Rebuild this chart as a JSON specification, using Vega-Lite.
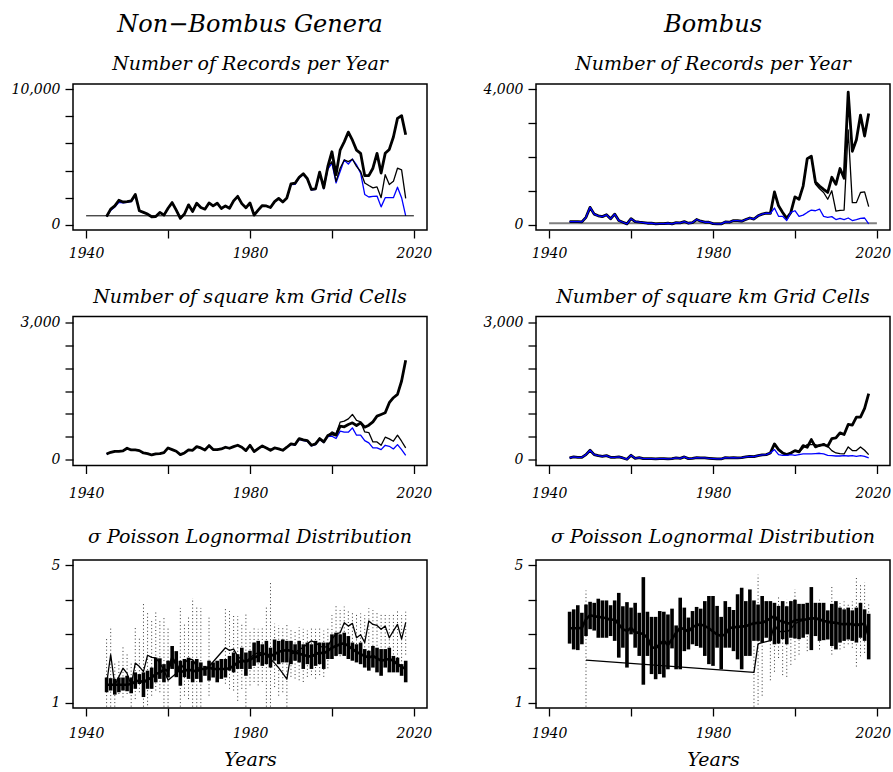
{
"$schema":"https://vega.github.io/schema/vega-lite/v6.json",
"background":"white",
"padding":{"left":10,"top":12,"right":0,"bottom":0},
"columns":2,
"align":"each",
"spacing":{"row":25.5,"column":49},
"datasets":{
"hL":[{"yr":1940,"h":650},{"yr":2020,"h":650}],
"hR":[{"yr":1940,"h":40},{"yr":2020,"h":40}],
"recL":[
{"yr":1945,"k":600,"t":600,"b":600},{"yr":1946,"k":1140,"t":1140,"b":1050},{"yr":1947,"k":1380,"t":1380,"b":1300},{"yr":1948,"k":1800,"t":1800,"b":1650},{"yr":1949,"k":1670,"t":1670,"b":1600},{"yr":1950,"k":1700,"t":1700,"b":1640},{"yr":1951,"k":1750,"t":1750,"b":1700},{"yr":1952,"k":2230,"t":2230,"b":2150},{"yr":1953,"k":1020,"t":1020,"b":1000},{"yr":1954,"k":900,"t":900,"b":900},
{"yr":1955,"k":780,"t":780,"b":780},{"yr":1956,"k":580,"t":580,"b":580},{"yr":1957,"k":600,"t":600,"b":600},{"yr":1958,"k":900,"t":900,"b":900},{"yr":1959,"k":700,"t":700,"b":700},{"yr":1960,"k":1210,"t":1210,"b":1210},{"yr":1961,"k":1630,"t":1630,"b":1630},{"yr":1962,"k":1070,"t":1070,"b":1070},{"yr":1963,"k":460,"t":460,"b":460},{"yr":1964,"k":780,"t":780,"b":780},
{"yr":1965,"k":1460,"t":1460,"b":1460},{"yr":1966,"k":970,"t":970,"b":970},{"yr":1967,"k":1580,"t":1580,"b":1580},{"yr":1968,"k":1260,"t":1260,"b":1260},{"yr":1969,"k":1140,"t":1140,"b":1140},{"yr":1970,"k":1600,"t":1600,"b":1600},{"yr":1971,"k":1380,"t":1380,"b":1380},{"yr":1972,"k":1580,"t":1580,"b":1580},{"yr":1973,"k":1190,"t":1190,"b":1190},{"yr":1974,"k":1380,"t":1380,"b":1380},
{"yr":1975,"k":1210,"t":1210,"b":1210},{"yr":1976,"k":1750,"t":1750,"b":1750},{"yr":1977,"k":2090,"t":2090,"b":2090},{"yr":1978,"k":1550,"t":1550,"b":1550},{"yr":1979,"k":1240,"t":1240,"b":1240},{"yr":1980,"k":1600,"t":1600,"b":1600},{"yr":1981,"k":700,"t":700,"b":700},{"yr":1982,"k":1070,"t":1070,"b":1070},{"yr":1983,"k":1410,"t":1410,"b":1410},{"yr":1984,"k":1380,"t":1380,"b":1380},
{"yr":1985,"k":1260,"t":1260,"b":1260},{"yr":1986,"k":1700,"t":1700,"b":1700},{"yr":1987,"k":1940,"t":1940,"b":1940},{"yr":1988,"k":1670,"t":1670,"b":1670},{"yr":1989,"k":1970,"t":1970,"b":1970},{"yr":1990,"k":3010,"t":3010,"b":2950},{"yr":1991,"k":3060,"t":3060,"b":2980},{"yr":1992,"k":3500,"t":3500,"b":3450},{"yr":1993,"k":3760,"t":3760,"b":3700},{"yr":1994,"k":3400,"t":3400,"b":3350},
{"yr":1995,"k":2600,"t":2600,"b":2550},{"yr":1996,"k":2650,"t":2650,"b":2600},{"yr":1997,"k":3880,"t":3880,"b":3800},{"yr":1998,"k":2720,"t":2720,"b":2650},{"yr":1999,"k":4300,"t":4300,"b":4100},{"yr":2000,"k":5390,"t":4660,"b":4540},{"yr":2001,"k":3690,"t":3200,"b":3080},{"yr":2002,"k":5510,"t":4170,"b":3930},{"yr":2003,"k":6120,"t":4780,"b":4780},{"yr":2004,"k":6840,"t":4660,"b":4470},
{"yr":2005,"k":6240,"t":4830,"b":4850},{"yr":2006,"k":5510,"t":4300,"b":4420},{"yr":2007,"k":5270,"t":3930,"b":3810},{"yr":2008,"k":3620,"t":3080,"b":2230},{"yr":2009,"k":3620,"t":2890,"b":2040},{"yr":2010,"k":4170,"t":2720,"b":2090},{"yr":2011,"k":5270,"t":2790,"b":2110},{"yr":2012,"k":3810,"t":1990,"b":1310},{"yr":2013,"k":5270,"t":3690,"b":1990},{"yr":2014,"k":5560,"t":2960,"b":1990},
{"yr":2015,"k":6480,"t":3200,"b":1990},{"yr":2016,"k":7860,"t":4170,"b":2770},{"yr":2017,"k":8060,"t":4050,"b":1990},{"yr":2018,"k":6650,"t":1940,"b":650}],
"recR":[
{"yr":1945,"k":90,"t":90,"b":90},{"yr":1946,"k":90,"t":90,"b":90},{"yr":1947,"k":90,"t":90,"b":90},{"yr":1948,"k":80,"t":80,"b":80},{"yr":1949,"k":215,"t":215,"b":215},{"yr":1950,"k":510,"t":510,"b":510},{"yr":1951,"k":310,"t":310,"b":310},{"yr":1952,"k":260,"t":260,"b":260},{"yr":1953,"k":235,"t":235,"b":235},{"yr":1954,"k":290,"t":290,"b":290},
{"yr":1955,"k":170,"t":170,"b":170},{"yr":1956,"k":310,"t":310,"b":310},{"yr":1957,"k":120,"t":120,"b":120},{"yr":1958,"k":70,"t":70,"b":70},{"yr":1959,"k":20,"t":20,"b":20},{"yr":1960,"k":175,"t":175,"b":175},{"yr":1961,"k":90,"t":90,"b":90},{"yr":1962,"k":70,"t":70,"b":70},{"yr":1963,"k":60,"t":60,"b":60},{"yr":1964,"k":40,"t":40,"b":40},
{"yr":1965,"k":40,"t":40,"b":40},{"yr":1966,"k":20,"t":20,"b":20},{"yr":1967,"k":30,"t":30,"b":30},{"yr":1968,"k":30,"t":30,"b":30},{"yr":1969,"k":40,"t":40,"b":40},{"yr":1970,"k":20,"t":20,"b":20},{"yr":1971,"k":60,"t":60,"b":60},{"yr":1972,"k":50,"t":50,"b":50},{"yr":1973,"k":90,"t":90,"b":90},{"yr":1974,"k":40,"t":40,"b":40},
{"yr":1975,"k":60,"t":60,"b":60},{"yr":1976,"k":150,"t":150,"b":150},{"yr":1977,"k":100,"t":100,"b":100},{"yr":1978,"k":70,"t":70,"b":70},{"yr":1979,"k":70,"t":70,"b":70},{"yr":1980,"k":30,"t":30,"b":30},{"yr":1981,"k":20,"t":20,"b":20},{"yr":1982,"k":20,"t":20,"b":20},{"yr":1983,"k":80,"t":80,"b":80},{"yr":1984,"k":70,"t":70,"b":70},
{"yr":1985,"k":120,"t":120,"b":120},{"yr":1986,"k":120,"t":120,"b":120},{"yr":1987,"k":100,"t":100,"b":100},{"yr":1988,"k":150,"t":150,"b":150},{"yr":1989,"k":195,"t":195,"b":195},{"yr":1990,"k":165,"t":165,"b":165},{"yr":1991,"k":260,"t":260,"b":260},{"yr":1992,"k":310,"t":310,"b":310},{"yr":1993,"k":340,"t":340,"b":340},{"yr":1994,"k":330,"t":330,"b":330},
{"yr":1995,"k":965,"t":965,"b":490},{"yr":1996,"k":555,"t":555,"b":245},{"yr":1997,"k":360,"t":360,"b":245},{"yr":1998,"k":185,"t":185,"b":120},{"yr":1999,"k":360,"t":360,"b":360},{"yr":2000,"k":820,"t":820,"b":410},{"yr":2001,"k":750,"t":750,"b":245},{"yr":2002,"k":1140,"t":1140,"b":280},{"yr":2003,"k":1950,"t":1950,"b":360},{"yr":2004,"k":2020,"t":2020,"b":430},
{"yr":2005,"k":1260,"t":1200,"b":410},{"yr":2006,"k":1140,"t":1060,"b":460},{"yr":2007,"k":1040,"t":950,"b":245},{"yr":2008,"k":950,"t":750,"b":215},{"yr":2009,"k":1400,"t":1000,"b":235},{"yr":2010,"k":1190,"t":400,"b":150},{"yr":2011,"k":1660,"t":420,"b":185},{"yr":2012,"k":1370,"t":430,"b":150},{"yr":2013,"k":3920,"t":2800,"b":195},{"yr":2014,"k":2170,"t":650,"b":120},
{"yr":2015,"k":2510,"t":650,"b":150},{"yr":2016,"k":3240,"t":950,"b":185},{"yr":2017,"k":2620,"t":970,"b":195},{"yr":2018,"k":3290,"t":530,"b":20}],
"grdL":[
{"yr":1945,"k":131,"t":131,"b":131},{"yr":1946,"k":167,"t":167,"b":167},{"yr":1947,"k":189,"t":189,"b":189},{"yr":1948,"k":189,"t":189,"b":189},{"yr":1949,"k":197,"t":197,"b":197},{"yr":1950,"k":255,"t":255,"b":255},{"yr":1951,"k":218,"t":218,"b":218},{"yr":1952,"k":218,"t":218,"b":218},{"yr":1953,"k":204,"t":204,"b":204},{"yr":1954,"k":153,"t":153,"b":153},
{"yr":1955,"k":138,"t":138,"b":138},{"yr":1956,"k":109,"t":109,"b":109},{"yr":1957,"k":131,"t":131,"b":131},{"yr":1958,"k":138,"t":138,"b":138},{"yr":1959,"k":160,"t":160,"b":160},{"yr":1960,"k":262,"t":262,"b":262},{"yr":1961,"k":226,"t":226,"b":226},{"yr":1962,"k":189,"t":189,"b":189},{"yr":1963,"k":116,"t":116,"b":116},{"yr":1964,"k":153,"t":153,"b":153},
{"yr":1965,"k":218,"t":218,"b":218},{"yr":1966,"k":211,"t":211,"b":211},{"yr":1967,"k":291,"t":291,"b":291},{"yr":1968,"k":262,"t":262,"b":262},{"yr":1969,"k":218,"t":218,"b":218},{"yr":1970,"k":313,"t":313,"b":313},{"yr":1971,"k":226,"t":226,"b":226},{"yr":1972,"k":226,"t":226,"b":226},{"yr":1973,"k":240,"t":240,"b":240},{"yr":1974,"k":277,"t":277,"b":277},
{"yr":1975,"k":255,"t":255,"b":255},{"yr":1976,"k":291,"t":291,"b":291},{"yr":1977,"k":320,"t":320,"b":320},{"yr":1978,"k":277,"t":277,"b":277},{"yr":1979,"k":204,"t":204,"b":204},{"yr":1980,"k":320,"t":320,"b":320},{"yr":1981,"k":182,"t":182,"b":182},{"yr":1982,"k":248,"t":248,"b":248},{"yr":1983,"k":306,"t":306,"b":306},{"yr":1984,"k":262,"t":262,"b":262},
{"yr":1985,"k":211,"t":211,"b":211},{"yr":1986,"k":262,"t":262,"b":262},{"yr":1987,"k":240,"t":240,"b":240},{"yr":1988,"k":211,"t":211,"b":211},{"yr":1989,"k":277,"t":277,"b":277},{"yr":1990,"k":349,"t":349,"b":340},{"yr":1991,"k":335,"t":335,"b":325},{"yr":1992,"k":466,"t":466,"b":450},{"yr":1993,"k":437,"t":437,"b":420},{"yr":1994,"k":422,"t":422,"b":405},
{"yr":1995,"k":320,"t":320,"b":305},{"yr":1996,"k":349,"t":349,"b":335},{"yr":1997,"k":466,"t":466,"b":445},{"yr":1998,"k":393,"t":393,"b":380},{"yr":1999,"k":531,"t":531,"b":510},{"yr":2000,"k":568,"t":611,"b":517},{"yr":2001,"k":539,"t":568,"b":466},{"yr":2002,"k":735,"t":823,"b":626},{"yr":2003,"k":721,"t":844,"b":604},{"yr":2004,"k":772,"t":895,"b":604},
{"yr":2005,"k":808,"t":990,"b":699},{"yr":2006,"k":750,"t":859,"b":539},{"yr":2007,"k":808,"t":830,"b":539},{"yr":2008,"k":713,"t":611,"b":422},{"yr":2009,"k":757,"t":597,"b":371},{"yr":2010,"k":830,"t":393,"b":262},{"yr":2011,"k":954,"t":393,"b":262},{"yr":2012,"k":990,"t":320,"b":226},{"yr":2013,"k":1026,"t":495,"b":320},{"yr":2014,"k":1245,"t":459,"b":298},
{"yr":2015,"k":1354,"t":408,"b":240},{"yr":2016,"k":1427,"t":539,"b":335},{"yr":2017,"k":1718,"t":408,"b":226},{"yr":2018,"k":2169,"t":262,"b":102}],
"grdR":[
{"yr":1945,"k":44,"t":44,"b":44},{"yr":1946,"k":66,"t":66,"b":66},{"yr":1947,"k":58,"t":58,"b":58},{"yr":1948,"k":58,"t":58,"b":58},{"yr":1949,"k":116,"t":116,"b":116},{"yr":1950,"k":211,"t":211,"b":211},{"yr":1951,"k":116,"t":116,"b":116},{"yr":1952,"k":95,"t":95,"b":95},{"yr":1953,"k":80,"t":80,"b":80},{"yr":1954,"k":95,"t":95,"b":95},
{"yr":1955,"k":58,"t":58,"b":58},{"yr":1956,"k":58,"t":58,"b":58},{"yr":1957,"k":66,"t":66,"b":66},{"yr":1958,"k":44,"t":44,"b":44},{"yr":1959,"k":15,"t":15,"b":15},{"yr":1960,"k":102,"t":102,"b":102},{"yr":1961,"k":36,"t":36,"b":36},{"yr":1962,"k":51,"t":51,"b":51},{"yr":1963,"k":29,"t":29,"b":29},{"yr":1964,"k":29,"t":29,"b":29},
{"yr":1965,"k":29,"t":29,"b":29},{"yr":1966,"k":22,"t":22,"b":22},{"yr":1967,"k":29,"t":29,"b":29},{"yr":1968,"k":29,"t":29,"b":29},{"yr":1969,"k":22,"t":22,"b":22},{"yr":1970,"k":29,"t":29,"b":29},{"yr":1971,"k":44,"t":44,"b":44},{"yr":1972,"k":36,"t":36,"b":36},{"yr":1973,"k":66,"t":66,"b":66},{"yr":1974,"k":29,"t":29,"b":29},
{"yr":1975,"k":36,"t":36,"b":36},{"yr":1976,"k":51,"t":51,"b":51},{"yr":1977,"k":44,"t":44,"b":44},{"yr":1978,"k":44,"t":44,"b":44},{"yr":1979,"k":36,"t":36,"b":36},{"yr":1980,"k":29,"t":29,"b":29},{"yr":1981,"k":22,"t":22,"b":22},{"yr":1982,"k":22,"t":22,"b":22},{"yr":1983,"k":51,"t":51,"b":51},{"yr":1984,"k":44,"t":44,"b":44},
{"yr":1985,"k":51,"t":51,"b":51},{"yr":1986,"k":44,"t":44,"b":44},{"yr":1987,"k":51,"t":51,"b":51},{"yr":1988,"k":66,"t":66,"b":66},{"yr":1989,"k":80,"t":80,"b":80},{"yr":1990,"k":73,"t":73,"b":73},{"yr":1991,"k":95,"t":95,"b":95},{"yr":1992,"k":109,"t":109,"b":109},{"yr":1993,"k":116,"t":116,"b":116},{"yr":1994,"k":153,"t":153,"b":153},
{"yr":1995,"k":349,"t":349,"b":226},{"yr":1996,"k":226,"t":226,"b":116},{"yr":1997,"k":153,"t":153,"b":102},{"yr":1998,"k":116,"t":116,"b":102},{"yr":1999,"k":153,"t":153,"b":116},{"yr":2000,"k":204,"t":204,"b":102},{"yr":2001,"k":175,"t":175,"b":116},{"yr":2002,"k":313,"t":262,"b":131},{"yr":2003,"k":277,"t":335,"b":131},{"yr":2004,"k":444,"t":335,"b":131},
{"yr":2005,"k":284,"t":335,"b":138},{"yr":2006,"k":320,"t":298,"b":146},{"yr":2007,"k":335,"t":357,"b":131},{"yr":2008,"k":298,"t":298,"b":102},{"yr":2009,"k":466,"t":204,"b":95},{"yr":2010,"k":480,"t":153,"b":87},{"yr":2011,"k":590,"t":138,"b":87},{"yr":2012,"k":553,"t":131,"b":95},{"yr":2013,"k":772,"t":284,"b":87},{"yr":2014,"k":757,"t":204,"b":95},
{"yr":2015,"k":932,"t":204,"b":80},{"yr":2016,"k":932,"t":284,"b":95},{"yr":2017,"k":1121,"t":211,"b":80},{"yr":2018,"k":1441,"t":116,"b":44}],
"sigL":[
{"yr":1945,"m":1.52,"lo":1.30,"hi":1.73,"t":1.55,"dl":0.88,"dh":2.85},{"yr":1946,"m":1.52,"lo":1.35,"hi":1.71,"t":2.40,"dl":0.88,"dh":3.23},{"yr":1947,"m":1.52,"lo":1.23,"hi":1.69,"t":1.50,"dl":0.88,"dh":2.17},{"yr":1948,"m":1.52,"lo":1.30,"hi":1.73,"t":1.75,"dl":1.25,"dh":2.22},{"yr":1949,"m":1.52,"lo":1.35,"hi":1.73,"t":2.00,"dl":1.15,"dh":2.62},
{"yr":1950,"m":1.52,"lo":1.33,"hi":1.78,"t":1.85,"dl":1.25,"dh":2.41},{"yr":1951,"m":1.54,"lo":1.27,"hi":1.73,"t":1.50,"dl":0.88,"dh":2.17},{"yr":1952,"m":1.61,"lo":1.40,"hi":1.88,"t":2.15,"dl":1.10,"dh":3.20},{"yr":1953,"m":1.64,"lo":1.54,"hi":1.83,"t":2.05,"dl":1.30,"dh":2.90},{"yr":1954,"m":1.59,"lo":1.16,"hi":1.88,"t":1.90,"dl":0.88,"dh":3.91},
{"yr":1955,"m":1.67,"lo":1.40,"hi":1.93,"t":2.38,"dl":0.92,"dh":3.67},{"yr":1956,"m":1.73,"lo":1.40,"hi":2.02,"t":2.32,"dl":1.20,"dh":3.40},{"yr":1957,"m":1.83,"lo":1.59,"hi":2.31,"t":2.30,"dl":1.35,"dh":3.67},{"yr":1958,"m":1.88,"lo":1.69,"hi":2.29,"t":2.15,"dl":1.30,"dh":3.40},{"yr":1959,"m":1.96,"lo":1.59,"hi":2.12,"t":1.95,"dl":0.88,"dh":3.52},
{"yr":1960,"m":1.93,"lo":1.73,"hi":2.22,"t":1.65,"dl":0.88,"dh":3.20},{"yr":1961,"m":2.30,"lo":1.98,"hi":2.65},{"yr":1962,"m":2.12,"lo":1.74,"hi":2.50},{"yr":1963,"m":1.88,"lo":1.49,"hi":2.22,"t":1.95,"dl":0.88,"dh":3.76},{"yr":1964,"m":1.93,"lo":1.74,"hi":2.27,"t":2.15,"dl":1.20,"dh":3.30},
{"yr":1965,"m":1.96,"lo":1.69,"hi":2.31,"t":2.27,"dl":1.10,"dh":3.50},{"yr":1966,"m":1.93,"lo":1.59,"hi":2.22,"t":2.25,"dl":0.88,"dh":4.05},{"yr":1967,"m":1.91,"lo":1.69,"hi":2.27,"t":2.05,"dl":0.88,"dh":3.81},{"yr":1968,"m":1.98,"lo":1.59,"hi":2.17,"t":1.95,"dl":0.88,"dh":3.76},{"yr":1969,"m":1.98,"lo":1.78,"hi":2.07},
{"yr":1970,"m":2.02,"lo":1.64,"hi":2.22,"t":2.05,"dl":1.20,"dh":3.52},{"yr":1971,"m":1.98,"lo":1.73,"hi":2.17},{"yr":1972,"m":1.98,"lo":1.59,"hi":2.22},{"yr":1973,"m":1.98,"lo":1.69,"hi":2.27},{"yr":1974,"m":1.98,"lo":1.73,"hi":2.27,"t":2.60,"dl":1.55,"dh":3.78},
{"yr":1975,"m":2.00,"lo":1.93,"hi":2.36,"t":2.52,"dl":1.40,"dh":3.67},{"yr":1976,"m":2.07,"lo":1.88,"hi":2.46,"t":2.56,"dl":1.35,"dh":3.57},{"yr":1977,"m":2.17,"lo":1.98,"hi":2.41,"t":2.35,"dl":1.05,"dh":3.52},{"yr":1978,"m":2.22,"lo":1.98,"hi":2.60,"t":2.25,"dl":1.40,"dh":3.30},{"yr":1979,"m":2.19,"lo":1.78,"hi":2.46,"t":2.20,"dl":0.88,"dh":3.62},
{"yr":1980,"m":2.25,"lo":1.98,"hi":2.51,"t":2.30,"dl":1.50,"dh":3.10},{"yr":1981,"m":2.31,"lo":2.07,"hi":2.75,"t":2.40,"dl":1.60,"dh":3.20},{"yr":1982,"m":2.36,"lo":2.17,"hi":2.80,"t":2.46,"dl":1.50,"dh":3.15},{"yr":1983,"m":2.43,"lo":2.07,"hi":2.70,"t":2.45,"dl":1.60,"dh":3.20},{"yr":1984,"m":2.41,"lo":2.12,"hi":2.80,"t":2.40,"dl":0.88,"dh":3.81},
{"yr":1985,"m":2.36,"lo":2.02,"hi":2.60,"t":2.27,"dl":0.88,"dh":4.49},{"yr":1986,"m":2.41,"lo":2.22,"hi":2.84,"t":2.15,"dl":1.45,"dh":3.30},{"yr":1987,"m":2.48,"lo":2.12,"hi":2.80,"t":2.01,"dl":1.20,"dh":3.25},{"yr":1988,"m":2.51,"lo":2.17,"hi":2.84,"t":1.85,"dl":1.30,"dh":3.20},{"yr":1989,"m":2.53,"lo":2.17,"hi":2.80,"t":1.68,"dl":0.88,"dh":3.28},
{"yr":1990,"m":2.51,"lo":2.12,"hi":2.80,"t":2.42,"dl":1.75,"dh":3.15},{"yr":1991,"m":2.46,"lo":2.22,"hi":2.70,"t":2.45,"dl":1.70,"dh":3.10},{"yr":1992,"m":2.43,"lo":2.17,"hi":2.80,"t":2.55,"dl":1.65,"dh":3.20},{"yr":1993,"m":2.39,"lo":1.98,"hi":2.70,"t":2.60,"dl":1.60,"dh":3.15},{"yr":1994,"m":2.36,"lo":2.12,"hi":2.75,"t":2.72,"dl":1.75,"dh":3.10},
{"yr":1995,"m":2.34,"lo":1.98,"hi":2.70,"t":2.80,"dl":1.80,"dh":3.20},{"yr":1996,"m":2.41,"lo":2.07,"hi":2.80,"t":2.75,"dl":1.70,"dh":3.15},{"yr":1997,"m":2.46,"lo":2.12,"hi":2.75,"t":2.65,"dl":1.80,"dh":3.20},{"yr":1998,"m":2.43,"lo":1.98,"hi":2.75,"t":2.60,"dl":1.75,"dh":3.10},{"yr":1999,"m":2.51,"lo":2.27,"hi":2.75,"t":2.65,"dl":2.00,"dh":3.20},
{"yr":2000,"m":2.60,"lo":2.27,"hi":2.99,"t":2.85,"dl":2.30,"dh":3.55},{"yr":2001,"m":2.65,"lo":2.36,"hi":3.04,"t":3.00,"dl":2.35,"dh":3.85},{"yr":2002,"m":2.70,"lo":2.41,"hi":2.99,"t":3.04,"dl":2.35,"dh":3.70},{"yr":2003,"m":2.73,"lo":2.36,"hi":3.04,"t":3.33,"dl":2.45,"dh":3.80},{"yr":2004,"m":2.65,"lo":2.27,"hi":2.94,"t":3.23,"dl":2.30,"dh":3.70},
{"yr":2005,"m":2.56,"lo":2.22,"hi":2.75,"t":3.31,"dl":2.35,"dh":3.65},{"yr":2006,"m":2.48,"lo":2.17,"hi":2.70,"t":2.89,"dl":2.20,"dh":3.60},{"yr":2007,"m":2.41,"lo":2.12,"hi":2.75,"t":2.98,"dl":2.25,"dh":3.60},{"yr":2008,"m":2.36,"lo":2.02,"hi":2.56,"t":2.75,"dl":2.10,"dh":3.55},{"yr":2009,"m":2.31,"lo":1.93,"hi":2.51,"t":3.38,"dl":2.30,"dh":3.75},
{"yr":2010,"m":2.36,"lo":2.02,"hi":2.65,"t":3.28,"dl":2.35,"dh":3.70},{"yr":2011,"m":2.29,"lo":1.88,"hi":2.60,"t":3.25,"dl":2.25,"dh":3.65},{"yr":2012,"m":2.22,"lo":1.78,"hi":2.56,"t":3.14,"dl":2.20,"dh":3.62},{"yr":2013,"m":2.25,"lo":2.02,"hi":2.56,"t":3.23,"dl":2.30,"dh":3.60},{"yr":2014,"m":2.27,"lo":1.88,"hi":2.60,"t":2.89,"dl":2.10,"dh":3.55},
{"yr":2015,"m":2.22,"lo":1.88,"hi":2.36,"t":3.09,"dl":2.20,"dh":3.62},{"yr":2016,"m":2.12,"lo":1.88,"hi":2.31,"t":3.28,"dl":2.30,"dh":3.70},{"yr":2017,"m":2.04,"lo":1.78,"hi":2.12,"t":2.85,"dl":2.10,"dh":3.55},{"yr":2018,"m":1.98,"lo":1.59,"hi":2.22,"t":3.33,"dl":2.40,"dh":3.65}],
"sigR":[
{"yr":1945,"m":3.17,"lo":2.72,"hi":3.65},{"yr":1946,"m":3.17,"lo":2.55,"hi":3.72},{"yr":1947,"m":3.17,"lo":2.53,"hi":3.84},{"yr":1948,"m":3.18,"lo":2.70,"hi":3.62},{"yr":1949,"m":3.43,"lo":2.94,"hi":3.86,"t":2.24,"dl":0.88,"dh":4.27},
{"yr":1950,"m":3.55,"lo":3.14,"hi":3.94},{"yr":1951,"m":3.52,"lo":3.10,"hi":3.91},{"yr":1952,"m":3.50,"lo":2.89,"hi":4.03},{"yr":1953,"m":3.48,"lo":2.89,"hi":3.98},{"yr":1954,"m":3.46,"lo":2.89,"hi":3.98},
{"yr":1955,"m":3.41,"lo":2.94,"hi":3.84},{"yr":1956,"m":3.43,"lo":2.80,"hi":3.98},{"yr":1957,"m":3.28,"lo":2.31,"hi":4.20},{"yr":1958,"m":3.14,"lo":2.60,"hi":3.81},{"yr":1959,"m":3.09,"lo":2.02,"hi":3.93},
{"yr":1960,"m":3.18,"lo":2.99,"hi":3.77},{"yr":1961,"m":3.04,"lo":2.60,"hi":3.91},{"yr":1962,"m":3.04,"lo":2.36,"hi":3.62},{"yr":1963,"m":2.99,"lo":1.52,"hi":4.66},{"yr":1964,"m":2.89,"lo":2.36,"hi":3.65},
{"yr":1965,"m":2.62,"lo":1.83,"hi":3.50},{"yr":1966,"m":2.58,"lo":1.68,"hi":3.50},{"yr":1967,"m":2.70,"lo":1.83,"hi":3.67},{"yr":1968,"m":2.80,"lo":1.73,"hi":3.65},{"yr":1969,"m":2.68,"lo":1.97,"hi":3.57},
{"yr":1970,"m":2.85,"lo":2.58,"hi":3.74},{"yr":1971,"m":3.04,"lo":1.97,"hi":3.25},{"yr":1972,"m":3.18,"lo":1.97,"hi":4.06},{"yr":1973,"m":3.14,"lo":2.50,"hi":3.77},{"yr":1974,"m":3.07,"lo":2.55,"hi":3.48},
{"yr":1975,"m":3.20,"lo":2.70,"hi":3.67},{"yr":1976,"m":3.26,"lo":2.65,"hi":3.79},{"yr":1977,"m":3.28,"lo":2.60,"hi":3.74},{"yr":1978,"m":3.23,"lo":2.36,"hi":3.96},{"yr":1979,"m":3.17,"lo":2.12,"hi":4.11},
{"yr":1980,"m":3.07,"lo":2.07,"hi":4.11},{"yr":1981,"m":2.99,"lo":2.60,"hi":3.82},{"yr":1982,"m":2.94,"lo":1.97,"hi":3.50},{"yr":1983,"m":2.99,"lo":2.60,"hi":3.96},{"yr":1984,"m":3.17,"lo":2.60,"hi":3.79},
{"yr":1985,"m":3.20,"lo":2.50,"hi":3.70},{"yr":1986,"m":3.20,"lo":2.26,"hi":4.16},{"yr":1987,"m":3.23,"lo":1.97,"hi":4.35},{"yr":1988,"m":3.22,"lo":2.36,"hi":3.96},{"yr":1989,"m":3.28,"lo":2.36,"hi":4.30},
{"yr":1990,"m":3.31,"lo":2.80,"hi":3.98,"t":1.88,"dl":0.88,"dh":2.68},{"yr":1991,"m":3.33,"lo":2.80,"hi":3.86,"t":2.71,"dl":0.94,"dh":4.73},{"yr":1992,"m":3.33,"lo":2.75,"hi":4.11,"t":2.75,"dl":1.20,"dh":4.12},{"yr":1993,"m":3.38,"lo":2.89,"hi":3.96},{"yr":1994,"m":3.46,"lo":2.80,"hi":3.96,"t":2.81,"dl":1.65,"dh":3.60},
{"yr":1995,"m":3.52,"lo":2.70,"hi":3.91,"t":3.30,"dl":1.90,"dh":3.90},{"yr":1996,"m":3.38,"lo":2.72,"hi":3.82,"t":3.05,"dl":2.30,"dh":4.10},{"yr":1997,"m":3.38,"lo":2.85,"hi":3.96,"t":3.10,"dl":1.80,"dh":3.90},{"yr":1998,"m":3.30,"lo":2.70,"hi":3.81,"t":3.05,"dl":1.75,"dh":4.00},{"yr":1999,"m":3.33,"lo":2.89,"hi":3.96,"t":3.15,"dl":2.10,"dh":4.00},
{"yr":2000,"m":3.40,"lo":2.87,"hi":4.00,"t":3.30,"dl":2.25,"dh":4.30},{"yr":2001,"m":3.41,"lo":2.85,"hi":3.88,"t":3.36,"dl":2.40,"dh":3.80},{"yr":2002,"m":3.42,"lo":2.89,"hi":3.88,"t":3.40},{"yr":2003,"m":3.43,"lo":2.99,"hi":3.91,"t":3.44,"dl":2.50,"dh":3.90},{"yr":2004,"m":3.46,"lo":2.53,"hi":4.37,"t":3.47},
{"yr":2005,"m":3.45,"lo":2.94,"hi":3.91,"t":3.47},{"yr":2006,"m":3.42,"lo":2.80,"hi":3.91,"t":3.45,"dl":2.55,"dh":4.00},{"yr":2007,"m":3.38,"lo":2.82,"hi":3.91,"t":3.40},{"yr":2008,"m":3.36,"lo":2.84,"hi":3.69,"t":3.38},{"yr":2009,"m":3.33,"lo":2.65,"hi":3.88,"t":3.35,"dl":2.40,"dh":4.40},
{"yr":2010,"m":3.33,"lo":2.55,"hi":3.96,"t":3.34},{"yr":2011,"m":3.30,"lo":2.75,"hi":3.77,"t":3.31,"dl":2.55,"dh":3.90},{"yr":2012,"m":3.28,"lo":2.80,"hi":3.72,"t":3.29,"dl":2.60,"dh":3.95},{"yr":2013,"m":3.30,"lo":2.84,"hi":3.77,"t":3.31,"dl":2.70,"dh":3.90},{"yr":2014,"m":3.28,"lo":2.80,"hi":3.69,"t":3.29,"dl":2.60,"dh":3.95},
{"yr":2015,"m":3.26,"lo":2.75,"hi":3.77,"t":3.27,"dl":2.05,"dh":4.65},{"yr":2016,"m":3.28,"lo":2.89,"hi":3.91,"t":3.29,"dl":2.35,"dh":4.45},{"yr":2017,"m":3.30,"lo":2.80,"hi":3.72,"t":3.31,"dl":2.45,"dh":4.50},{"yr":2018,"m":2.94,"lo":2.26,"hi":3.59,"t":2.96,"dl":2.30,"dh":3.90}]
},
"concat":[
{"width":354,"height":146,
"title":{"text":"Non−Bombus Genera","subtitle":"Number of Records per Year","fontSize":24,"subtitlePadding":18,"offset":8},
"encoding":{"x":{"field":"yr","type":"quantitative","title":null,"scale":{"domain":[1936.8,2023.2],"nice":false,"zero":false},"axis":{"values":[1940,1960,1980,2000,2020],"tickCount":50,"labelExpr":"datum.value==1940?'1940':datum.value==1980?'1980':datum.value==2020?'2020':''","labelPadding":8}}},
"layer":[
{"data":{"name":"recL"},"mark":{"type":"line","color":"#0000ff","strokeWidth":1.3,"strokeJoin":"round"},"encoding":{"y":{"field":"b","type":"quantitative","title":null,"scale":{"domain":[-400,10400],"nice":false,"zero":false},"axis":{"values":[0,2000,4000,6000,8000,10000],"tickCount":50,"labelExpr":"datum.value>9999?'10,000':datum.value<1?'0':''"}}}},
{"data":{"name":"hL"},"mark":{"type":"line","color":"black","strokeWidth":1},"encoding":{"y":{"field":"h","type":"quantitative","title":null,"scale":{"domain":[-400,10400],"nice":false,"zero":false}}}},
{"data":{"name":"recL"},"mark":{"type":"line","color":"black","strokeWidth":1.3,"strokeJoin":"round"},"encoding":{"y":{"field":"t","type":"quantitative","title":null,"scale":{"domain":[-400,10400],"nice":false,"zero":false}}}},
{"data":{"name":"recL"},"mark":{"type":"line","color":"black","strokeWidth":2.8,"strokeJoin":"round"},"encoding":{"y":{"field":"k","type":"quantitative","title":null,"scale":{"domain":[-400,10400],"nice":false,"zero":false}}}}
]},
{"width":354,"height":146,
"title":{"text":"Bombus","subtitle":"Number of Records per Year","fontSize":24,"subtitlePadding":18,"offset":8},
"encoding":{"x":{"field":"yr","type":"quantitative","title":null,"scale":{"domain":[1936.8,2023.2],"nice":false,"zero":false},"axis":{"values":[1940,1960,1980,2000,2020],"tickCount":50,"labelExpr":"datum.value==1940?'1940':datum.value==1980?'1980':datum.value==2020?'2020':''","labelPadding":8,"labelOffset":{"condition":{"test":"datum.value==2020","value":-4},"value":0}}}},
"layer":[
{"data":{"name":"hR"},"mark":{"type":"line","color":"#808080","strokeWidth":2.2},"encoding":{"y":{"field":"h","type":"quantitative","title":null,"scale":{"domain":[-160,4160],"nice":false,"zero":false},"axis":{"values":[0,1000,2000,3000,4000],"tickCount":50,"labelExpr":"datum.value==0?'0':datum.value==4000?'4,000':''"}}}},
{"data":{"name":"recR"},"mark":{"type":"line","color":"black","strokeWidth":2.8,"strokeJoin":"round"},"encoding":{"y":{"field":"k","type":"quantitative","title":null,"scale":{"domain":[-160,4160],"nice":false,"zero":false}}}},
{"data":{"name":"recR"},"mark":{"type":"line","color":"black","strokeWidth":1.3,"strokeJoin":"round"},"encoding":{"y":{"field":"t","type":"quantitative","title":null,"scale":{"domain":[-160,4160],"nice":false,"zero":false}}}},
{"data":{"name":"recR"},"mark":{"type":"line","color":"#0000ff","strokeWidth":1.3,"strokeJoin":"round"},"encoding":{"y":{"field":"b","type":"quantitative","title":null,"scale":{"domain":[-160,4160],"nice":false,"zero":false}}}}
]},
{"width":354,"height":149,
"title":{"text":"Number of square km Grid Cells","offset":8.5},
"encoding":{"x":{"field":"yr","type":"quantitative","title":null,"scale":{"domain":[1936.8,2023.2],"nice":false,"zero":false},"axis":{"values":[1940,1960,1980,2000,2020],"tickCount":50,"labelExpr":"datum.value==1940?'1940':datum.value==1980?'1980':datum.value==2020?'2020':''","labelPadding":13}}},
"layer":[
{"data":{"name":"grdL"},"mark":{"type":"line","color":"#0000ff","strokeWidth":1.3,"strokeJoin":"round"},"encoding":{"y":{"field":"b","type":"quantitative","title":null,"scale":{"domain":[-120,3120],"nice":false,"zero":false},"axis":{"values":[0,500,1000,1500,2000,2500,3000],"tickCount":50,"labelExpr":"datum.value==0?'0':datum.value==3000?'3,000':''"}}}},
{"data":{"name":"grdL"},"mark":{"type":"line","color":"black","strokeWidth":1.3,"strokeJoin":"round"},"encoding":{"y":{"field":"t","type":"quantitative","title":null,"scale":{"domain":[-120,3120],"nice":false,"zero":false}}}},
{"data":{"name":"grdL"},"mark":{"type":"line","color":"black","strokeWidth":2.8,"strokeJoin":"round"},"encoding":{"y":{"field":"k","type":"quantitative","title":null,"scale":{"domain":[-120,3120],"nice":false,"zero":false}}}}
]},
{"width":354,"height":149,
"title":{"text":"Number of square km Grid Cells","offset":8.5},
"encoding":{"x":{"field":"yr","type":"quantitative","title":null,"scale":{"domain":[1936.8,2023.2],"nice":false,"zero":false},"axis":{"values":[1940,1960,1980,2000,2020],"tickCount":50,"labelExpr":"datum.value==1940?'1940':datum.value==1980?'1980':datum.value==2020?'2020':''","labelPadding":13,"labelOffset":{"condition":{"test":"datum.value==2020","value":-4},"value":0}}}},
"layer":[
{"data":{"name":"grdR"},"mark":{"type":"line","color":"black","strokeWidth":2.8,"strokeJoin":"round"},"encoding":{"y":{"field":"k","type":"quantitative","title":null,"scale":{"domain":[-120,3120],"nice":false,"zero":false},"axis":{"values":[0,500,1000,1500,2000,2500,3000],"tickCount":50,"labelExpr":"datum.value==0?'0':datum.value==3000?'3,000':''"}}}},
{"data":{"name":"grdR"},"mark":{"type":"line","color":"black","strokeWidth":1.3,"strokeJoin":"round"},"encoding":{"y":{"field":"t","type":"quantitative","title":null,"scale":{"domain":[-120,3120],"nice":false,"zero":false}}}},
{"data":{"name":"grdR"},"mark":{"type":"line","color":"#0000ff","strokeWidth":1.3,"strokeJoin":"round"},"encoding":{"y":{"field":"b","type":"quantitative","title":null,"scale":{"domain":[-120,3120],"nice":false,"zero":false}}}}
]},
{"width":354,"height":148,
"title":{"text":"σ Poisson Lognormal Distribution","offset":11.5},
"data":{"name":"sigL"},
"encoding":{"x":{"field":"yr","type":"quantitative","title":"Years","scale":{"domain":[1936.8,2023.2],"nice":false,"zero":false},"axis":{"values":[1940,1960,1980,2000,2020],"tickCount":50,"labelExpr":"datum.value==1940?'1940':datum.value==1980?'1980':datum.value==2020?'2020':''","labelPadding":10,"titlePadding":10.5}}},
"layer":[
{"transform":[{"filter":"isValid(datum.dl)"}],"mark":{"type":"rule","color":"#333333","strokeWidth":1,"strokeDash":[1,2.5]},"encoding":{"y":{"field":"dl","type":"quantitative","title":null,"scale":{"domain":[0.84,5.16],"nice":false,"zero":false},"axis":{"values":[1,2,3,4,5],"tickCount":50,"labelExpr":"datum.value==1?'1':datum.value==5?'5':''"}},"y2":{"field":"dh"}}},
{"mark":{"type":"rule","color":"black","strokeWidth":3.6},"encoding":{"y":{"field":"lo","type":"quantitative","title":null,"scale":{"domain":[0.84,5.16],"nice":false,"zero":false}},"y2":{"field":"hi"}}},
{"mark":{"type":"line","color":"black","strokeWidth":2.6,"strokeJoin":"round"},"encoding":{"y":{"field":"m","type":"quantitative","title":null,"scale":{"domain":[0.84,5.16],"nice":false,"zero":false}}}},
{"transform":[{"filter":"isValid(datum.t)"}],"mark":{"type":"line","color":"black","strokeWidth":1.3,"strokeJoin":"round"},"encoding":{"y":{"field":"t","type":"quantitative","title":null,"scale":{"domain":[0.84,5.16],"nice":false,"zero":false}}}}
]},
{"width":354,"height":148,
"title":{"text":"σ Poisson Lognormal Distribution","offset":11.5},
"data":{"name":"sigR"},
"encoding":{"x":{"field":"yr","type":"quantitative","title":"Years","scale":{"domain":[1936.8,2023.2],"nice":false,"zero":false},"axis":{"values":[1940,1960,1980,2000,2020],"tickCount":50,"labelExpr":"datum.value==1940?'1940':datum.value==1980?'1980':datum.value==2020?'2020':''","labelPadding":10,"titlePadding":10.5,"labelOffset":{"condition":{"test":"datum.value==2020","value":-4},"value":0}}}},
"layer":[
{"transform":[{"filter":"isValid(datum.dl)"}],"mark":{"type":"rule","color":"#333333","strokeWidth":1,"strokeDash":[1,2.5]},"encoding":{"y":{"field":"dl","type":"quantitative","title":null,"scale":{"domain":[0.84,5.16],"nice":false,"zero":false},"axis":{"values":[1,2,3,4,5],"tickCount":50,"labelExpr":"datum.value==1?'1':datum.value==5?'5':''"}},"y2":{"field":"dh"}}},
{"mark":{"type":"rule","color":"black","strokeWidth":3.6},"encoding":{"y":{"field":"lo","type":"quantitative","title":null,"scale":{"domain":[0.84,5.16],"nice":false,"zero":false}},"y2":{"field":"hi"}}},
{"mark":{"type":"line","color":"black","strokeWidth":2.6,"strokeJoin":"round"},"encoding":{"y":{"field":"m","type":"quantitative","title":null,"scale":{"domain":[0.84,5.16],"nice":false,"zero":false}}}},
{"transform":[{"filter":"isValid(datum.t)"}],"mark":{"type":"line","color":"black","strokeWidth":1.3,"strokeJoin":"round"},"encoding":{"y":{"field":"t","type":"quantitative","title":null,"scale":{"domain":[0.84,5.16],"nice":false,"zero":false}}}}
]}
],
"config":{
"font":"DejaVu Serif",
"view":{"stroke":"black","strokeWidth":1.5},
"axis":{"domain":false,"grid":false,"tickColor":"black","tickWidth":1.3,"tickSize":8,"labelFont":"DejaVu Serif","labelFontStyle":"italic","labelFontSize":14,"labelColor":"black","labelOverlap":false,"labelFlush":false,"labelBound":false,"titleFont":"DejaVu Serif","titleFontStyle":"italic","titleFontWeight":"normal","titleFontSize":19,"titleColor":"black"},
"axisY":{"labelPadding":5},
"title":{"font":"DejaVu Serif","fontStyle":"italic","fontWeight":"normal","fontSize":19,"color":"black","subtitleFont":"DejaVu Serif","subtitleFontStyle":"italic","subtitleFontSize":19,"subtitleColor":"black","anchor":"middle","frame":"group","offset":4}
}
}
